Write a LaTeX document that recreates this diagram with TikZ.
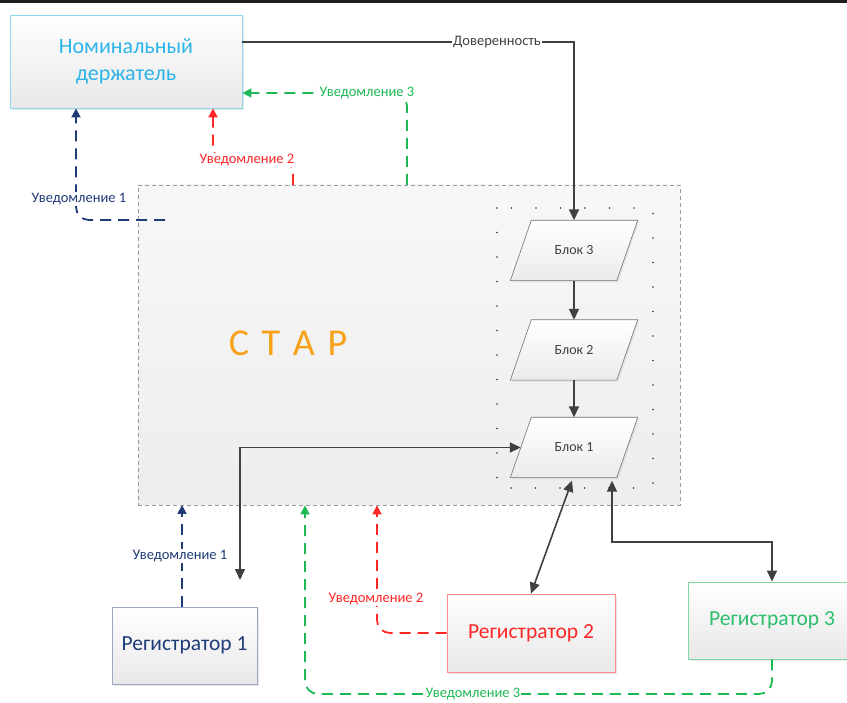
\documentclass[tikz,border=0pt]{standalone}
\usepackage{fontspec}
\setmainfont{Carlito}
\usetikzlibrary{shapes.geometric,arrows.meta,shadows}
\definecolor{navyc}{HTML}{1F3B78}
\definecolor{redc}{HTML}{FF2626}
\definecolor{greenc}{HTML}{1DB954}
\definecolor{greent}{HTML}{2DBE6C}
\definecolor{skyc}{HTML}{2DB4E8}
\definecolor{skyb}{HTML}{8FD6F2}
\definecolor{orangec}{HTML}{F7A11A}
\definecolor{arrc}{HTML}{404040}
\begin{document}
\begin{tikzpicture}[x=1pt,y=-1pt,
  box/.style={draw, rectangle, line width=0.8pt, top color=white, bottom color=black!9,
    drop shadow={opacity=0.18, shadow xshift=2pt, shadow yshift=-2pt}},
  blkn/.style={rectangle, minimum width=106pt, minimum height=60pt, inner sep=0pt},
  blkshape/.style={draw=black!55, line width=0.6pt, top color=white, bottom color=black!8,
    drop shadow={opacity=0.15, shadow xshift=1.5pt, shadow yshift=-1.5pt}},
  blktxt/.style={text=black!75, font=\fontsize{14}{16}\selectfont},
  arr/.style={draw=arrc, line width=1.6pt, {Triangle[length=11pt,width=10pt]}-{Triangle[length=11pt,width=10pt]}},
  arr1/.style={draw=arrc, line width=1.6pt, -{Triangle[length=11pt,width=10pt]}},
  note/.style={dash pattern=on 11pt off 7pt, line width=1.8pt, rounded corners=13pt, -{Triangle[length=9pt,width=9pt]}},
  lbl/.style={fill=white, inner sep=1.2pt, font=\fontsize{14.5}{16}\selectfont}]
\useasboundingbox (0,0) rectangle (847,703);
\fill[black!88] (0,0) rectangle (847,3);

% main nodes
\node[box, draw=skyb, minimum width=232pt, minimum height=93pt, text=skyc, align=center,
  font=\fontsize{22}{27}\selectfont] (nom) at (126,61.5) {Номинальный\\держатель};
\node[draw=black!40, dash pattern=on 4pt off 3pt, line width=0.8pt, top color=black!3, bottom color=black!7,
  minimum width=542pt, minimum height=320pt] (star) at (409,345) {};
\node[text=orangec, font=\fontsize{38}{40}\selectfont] (startxt) at (288,343) {С\,\,Т\,\,А\,\,Р};
\draw[black!80, dash pattern=on 0pt off 24.5pt, line cap=round, line width=1.8pt] (497,208) rectangle (653,488);

\foreach \n/\y/\t in {b3/250.5/Блок 3, b2/350/Блок 2, b1/447.5/Блок 1}{
  \node[blkn] (\n) at (574,\y) {};
  \path[blkshape] ([xshift=-10.5pt]\n.south west) -- ([xshift=10.5pt]\n.north west) -- ([xshift=10.5pt]\n.north east) -- ([xshift=-10.5pt]\n.south east) -- cycle;
  \node[blktxt] (\n t) at (\n) {\t};
}

\node[box, draw=navyc!45, minimum width=145pt, minimum height=77pt, text=navyc, font=\fontsize{21.5}{24}\selectfont] (reg1) at (184.5,645.5) {Регистратор 1};
\node[box, draw=redc!55, minimum width=168pt, minimum height=78pt, text=redc, font=\fontsize{21.5}{24}\selectfont] (reg2) at (531,633) {Регистратор 2};
\node[box, draw=greent!60, minimum width=168pt, minimum height=77pt, text=greent, font=\fontsize{21.5}{24}\selectfont] (reg3) at (772,620.5) {Регистратор 3};

% solid connectors
\coordinate (dv) at (574,42);
\draw[arr1] (dv -| nom.east) -- (dv) -- (b3.north);
\node[lbl, text=black!75, font=\fontsize{14.5}{16}\selectfont, inner sep=1pt] (dvl) at (497,42) {Доверенность};
\draw[arr1] (b3.south) -- (b2.north);
\draw[arr1] (b2.south) -- (b1.north);
\coordinate (r1e) at (240,580);
\draw[arr] (b1.west) -| (r1e);
\draw[arr] ([xshift=-2pt,yshift=-3pt]b1.south) -- (reg2.north);
\coordinate (k3) at (612,542);
\draw[arr] ([xshift=38pt,yshift=-3pt]b1.south) -- (k3) -| (reg3.north);

% notifications top
\coordinate (n1a) at (165,220);
\coordinate (n1b) at (76,220);
\draw[note, navyc] (n1a) -- (n1b) -- (n1b |- nom.south);
\node[lbl, text=navyc] (n1l) at (79,199) {Уведомление 1};

\coordinate (n2a) at (293,185);
\coordinate (n2b) at (293,160);
\coordinate (n2c) at (213,160);
\draw[note, redc] (n2a) -- (n2b) -- (n2c) -- (n2c |- nom.south);
\node[lbl, text=redc] (n2l) at (247,160) {Уведомление 2};

\coordinate (n3a) at (407,185);
\coordinate (n3b) at (407,93);
\draw[note, greenc] (n3a) -- (n3b) -- (n3b -| nom.east);
\node[lbl, text=greenc] (n3l) at (367,93) {Уведомление 3};

% notifications bottom
\draw[note, navyc] (reg1.north -| 182,0) -- (182,505);
\node[lbl, text=navyc] (m1l) at (180,556) {Уведомление 1};

\coordinate (m2b) at (377,633);
\draw[note, redc] (reg2.west) -- (m2b) -- (m2b |- star.south);
\node[lbl, text=redc] (m2l) at (376,599) {Уведомление 2};

\coordinate (m3b) at (305,694);
\draw[note, greenc] (reg3.south) |- (m3b) -- (m3b |- star.south);
\node[lbl, text=greenc] (m3l) at (473,694) {Уведомление 3};
\end{tikzpicture}
\end{document}
